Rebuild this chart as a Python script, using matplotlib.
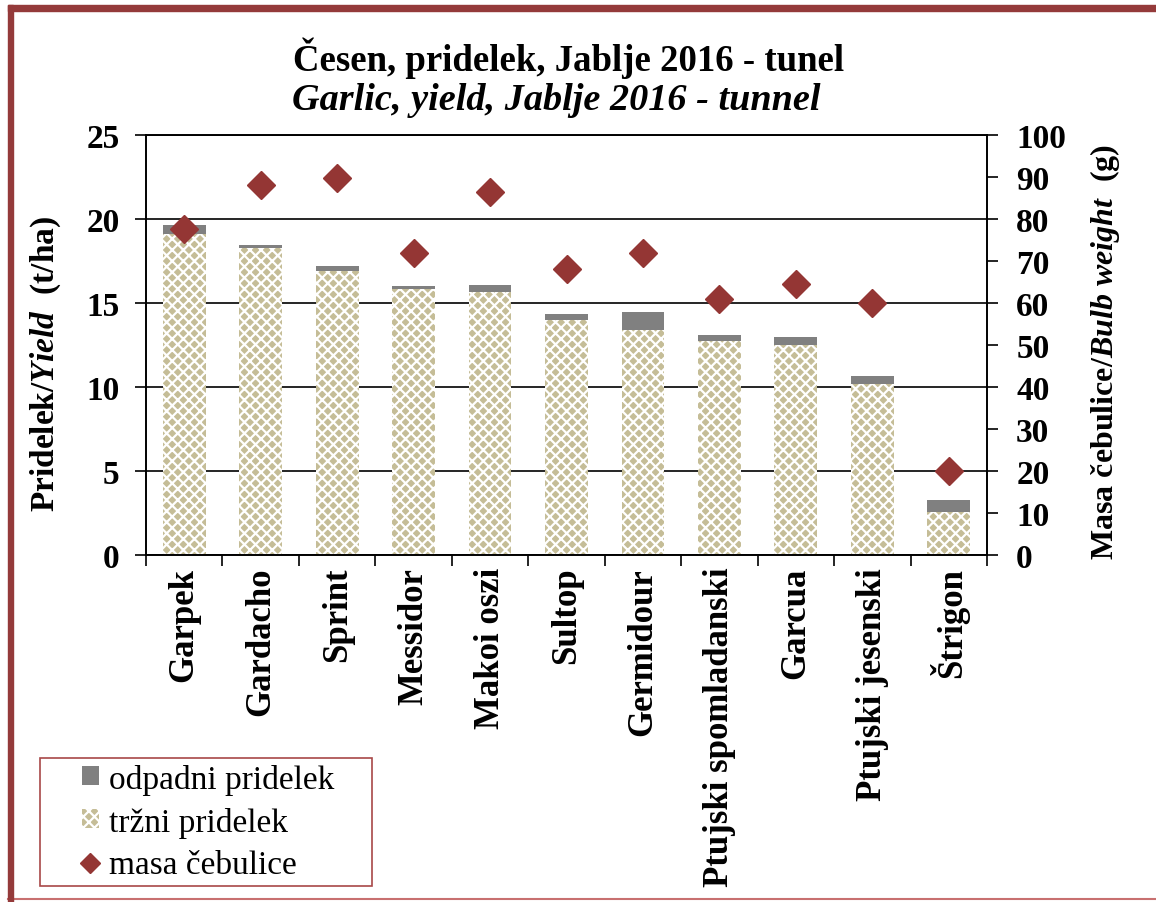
import numpy as np
import matplotlib
matplotlib.use("Agg")
import matplotlib.pyplot as plt
from matplotlib.patches import Rectangle, Patch
from matplotlib.lines import Line2D

# podatki
sorte = ['Garpek', 'Gardacho', 'Sprint', 'Messidor', 'Makoi oszi', 'Sultop',
         'Germidour', 'Ptujski spomladanski', 'Garcua', 'Ptujski jesenski', 'Štrigon']
trzni = [19.1, 18.27, 16.9, 15.83, 15.65, 14.0, 13.4, 12.76, 12.5, 10.18, 2.58]
skupaj = [19.64, 18.47, 17.2, 16.0, 16.1, 14.33, 14.45, 13.1, 12.95, 10.65, 3.3]
masa = [77.5, 88.1, 89.8, 72.0, 86.4, 68.0, 72.0, 61.0, 64.5, 60.0, 20.0]

odpadni = [s - t for s, t in zip(skupaj, trzni)]

plt.rcParams['font.family'] = ['Liberation Serif', 'DejaVu Serif']
plt.rcParams['mathtext.fontset'] = 'custom'
plt.rcParams['mathtext.rm'] = 'Liberation Serif:bold'
plt.rcParams['mathtext.bf'] = 'Liberation Serif:bold'
plt.rcParams['mathtext.it'] = 'Liberation Serif:bold:italic'
plt.rcParams['hatch.linewidth'] = 1.6

W, H = 1156, 903
fig = plt.figure(figsize=(W / 100, H / 100), dpi=100)

def fx(px):
    return px / W

def fy(py):
    return 1 - py / H

ax = fig.add_axes([fx(146), fy(556), fx(987) - fx(146), fy(136) - fy(556)])
ax2 = ax.twinx()

x = np.arange(len(sorte))
tan = '#C5BD97'
siva = '#808080'
rdeca = '#943634'

ax.bar(x, trzni, width=0.56, color=tan, edgecolor='white', linewidth=0, hatch='xxx', zorder=2)
ax.bar(x, odpadni, bottom=trzni, width=0.56, color=siva, linewidth=0, zorder=2)
ax2.plot(x, masa, linestyle='none', marker='D', markersize=14, color=rdeca, zorder=3)

ax.set_xlim(-0.5, len(sorte) - 0.5)
ax.set_ylim(0, 25)
ax2.set_ylim(0, 100)
ax.set_yticks(np.arange(0, 26, 5))
ax2.set_yticks(np.arange(0, 101, 10))
ax.set_axisbelow(True)
ax.yaxis.grid(True, color='black', linewidth=1.2)

# kategorije med oznakami
ax.set_xticks(np.arange(-0.5, len(sorte), 1))
ax.set_xticklabels([])
ax.set_xticks(x, minor=True)
ax.set_xticklabels(sorte, minor=True, rotation=90, fontsize=25, fontweight='bold')
ax.tick_params(axis='x', which='minor', length=0, pad=8.5)
ax.tick_params(axis='x', which='major', direction='out', length=8, width=1.2)
ax.tick_params(axis='y', direction='out', length=8, width=1.2, labelsize=24, pad=11)
ax2.tick_params(axis='y', direction='out', length=8, width=1.2, labelsize=24, pad=13)
for lab in ax.get_yticklabels() + ax2.get_yticklabels():
    lab.set_fontweight('bold')

for a in (ax, ax2):
    for s in a.spines.values():
        s.set_linewidth(1.2)

# naslov
fig.text(fx(569), fy(58), 'Česen, pridelek, Jablje 2016 - tunel', ha='center', va='center',
         fontsize=26.5, fontweight='bold')
fig.text(fx(556), fy(101), 'Garlic, yield, Jablje 2016 - tunnel', ha='center', va='center',
         fontsize=27.5, fontweight='bold', fontstyle='italic')

# osi
fig.text(fx(46), fy(364), r'$\mathrm{Pridelek/}\mathit{Yield}\mathrm{\ \ (t/ha)}$',
         rotation=90, ha='center', va='center', fontsize=24)
fig.text(fx(1105), fy(352), r'$\mathrm{Masa\ čebulice/}\mathit{Bulb\ weight}\mathrm{\ \ (g)}$',
         rotation=90, ha='center', va='center', fontsize=23)

# legenda
handles = [Patch(facecolor=siva, edgecolor='none'),
           Patch(facecolor=tan, edgecolor='white', hatch='xxx', linewidth=0),
           Line2D([], [], linestyle='none', marker='D', markersize=10, color=rdeca)]
labels = ['odpadni pridelek', 'tržni pridelek', 'masa čebulice']
leg = fig.legend(handles, labels, loc='center',
                 bbox_to_anchor=(fx(208), fy(823)),
                 fontsize=24, frameon=False,
                 handlelength=0.5, handleheight=0.5, handletextpad=0.3,
                 labelspacing=0.36, borderpad=0, borderaxespad=0)
fig.add_artist(Rectangle((fx(40), fy(887)), fx(372) - fx(40), fy(759) - fy(887),
                         transform=fig.transFigure, fill=False,
                         edgecolor='#A84848', linewidth=1.2))

# okvir
fig.add_artist(Rectangle((fx(8), 0), fx(5), fy(6), transform=fig.transFigure,
                         color='#943A3A', zorder=10))
fig.add_artist(Rectangle((fx(8), fy(12)), 1 - fx(8), fy(6) - fy(12), transform=fig.transFigure,
                         color='#943A3A', zorder=10))
fig.add_artist(Line2D([fx(8), 1], [fy(900), fy(900)], transform=fig.transFigure,
                      color='#C87070', linewidth=1.5))

fig.savefig('out.png', dpi=100)
